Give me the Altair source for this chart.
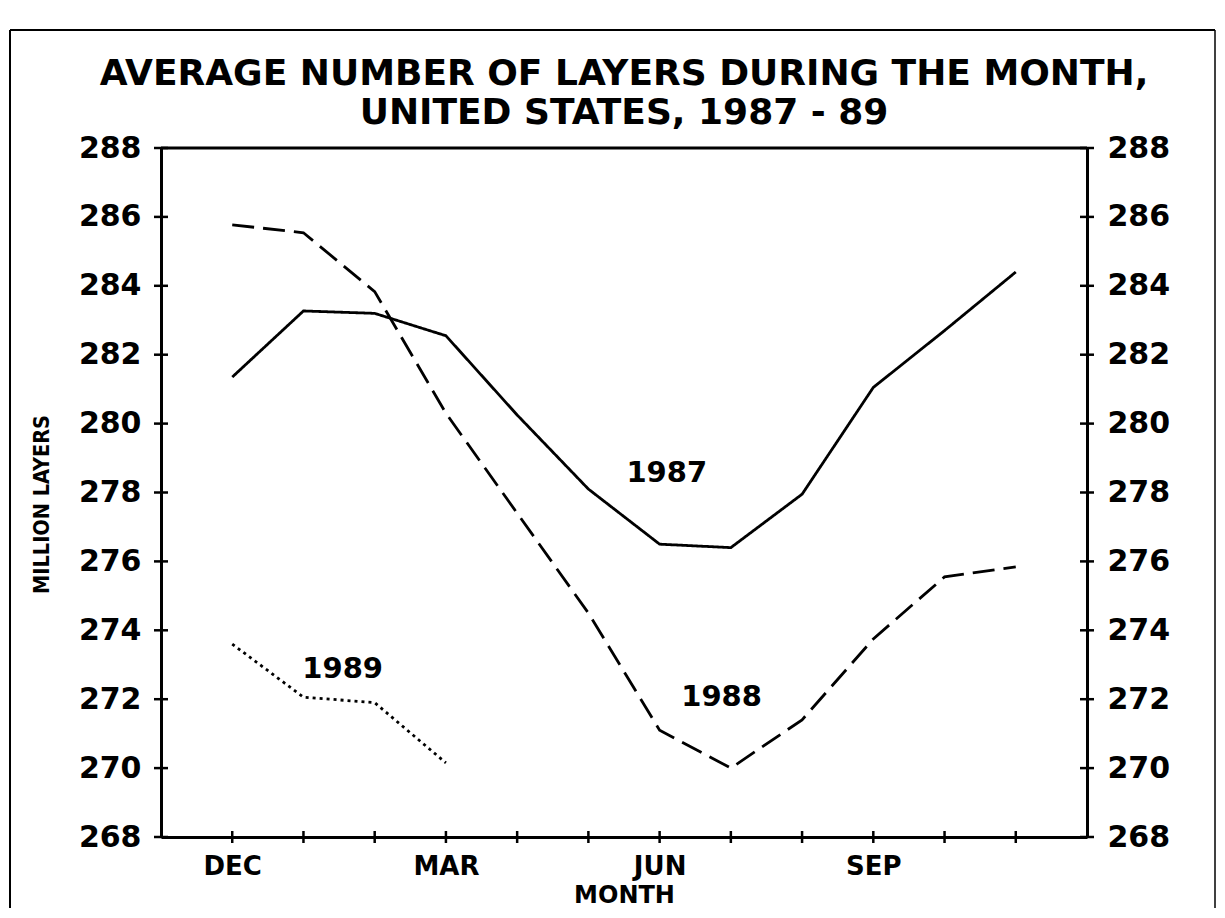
import altair as alt
import pandas as pd

months = ["DEC", "JAN", "FEB", "MAR", "APR", "MAY", "JUN", "JUL", "AUG", "SEP", "OCT", "NOV"]
v1987 = [281.35, 283.27, 283.2, 282.55, 280.25, 278.1, 276.5, 276.4, 277.95, 281.05, 282.7, 284.4]
v1988 = [285.77, 285.54, 283.83, 280.3, 277.4, 274.5, 271.1, 270.0, 271.4, 273.75, 275.55, 275.84]
v1989 = [273.6, 272.06, 271.9, 270.15]
years = ["1987", "1988", "1989"]
y_ticks = [268, 270, 272, 274, 276, 278, 280, 282, 284, 286, 288]
x_label_idx = [0, 3, 6, 9]
label_text = ["1987", "1988", "1989"]
label_idx = [6.1, 6.87, 1.55]
label_val = [278.57, 272.06, 272.88]

W, H = 926, 689

rows = []
for yr, vals in zip(years, [v1987, v1988, v1989]):
    for i, v in enumerate(vals):
        rows.append({"year": yr, "idx": i, "month": months[i], "value": v})
df = pd.DataFrame(rows)
ytick_df = pd.DataFrame({"value": y_ticks})
xtick_df = pd.DataFrame({"idx": list(range(len(months)))})
lab_df = pd.DataFrame({"label": label_text, "idx": label_idx, "value": label_val})

month_arr = "[" + ",".join("'" + m + "'" for m in months) + "]"

xscale = alt.Scale(domain=[-1, 12], nice=False, zero=False)
yscale = alt.Scale(domain=[268, 288], nice=False, zero=False)

xaxis = alt.Axis(
    values=x_label_idx, labelExpr=month_arr + "[datum.value]", ticks=False, grid=False,
    domainColor="black", domainWidth=3, labelFont="DejaVu Sans", labelFontWeight="bold",
    labelFontSize=26, labelColor="black", labelPadding=16,
    title="MONTH", titleFont="DejaVu Sans", titleFontWeight="bold", titleFontSize=24,
    titleColor="black", titleX=W / 2, titleY=65, titleBaseline="alphabetic", titleAlign="center",
)
x_enc = alt.X("idx:Q", scale=xscale, axis=xaxis)

yaxis_left = alt.Axis(
    values=y_ticks, ticks=False, grid=False, domainColor="black", domainWidth=3,
    labelFont="DejaVu Sans", labelFontWeight="bold", labelFontSize=30, labelColor="black",
    labelPadding=20, title="MILLION LAYERS",
    titleFont="DejaVu Sans Condensed, Liberation Sans, sans-serif",
    titleFontWeight="bold", titleFontSize=21.5, titleColor="black", titleAngle=270,
    titleX=-119, titleY=356, titleAlign="center", titleBaseline="middle",
)
yaxis_right = alt.Axis(
    orient="right", values=y_ticks, ticks=False, grid=False, domainColor="black", domainWidth=3,
    labelFont="DejaVu Sans", labelFontWeight="bold", labelFontSize=30, labelColor="black",
    labelPadding=20, title=None,
)

lines = alt.Chart(df).mark_line(color="black", strokeWidth=2.8).encode(
    x=x_enc,
    y=alt.Y("value:Q", scale=yscale, axis=yaxis_left),
    strokeDash=alt.StrokeDash(
        "year:N", scale=alt.Scale(domain=years, range=[[1, 0], [22, 9], [3, 4]]), legend=None
    ),
    detail="year:N",
)

right_axis = alt.Chart(df).mark_line(opacity=0).encode(
    x=x_enc,
    y=alt.Y("value:Q", scale=yscale, axis=yaxis_right),
    detail="year:N",
)

ytick_left = alt.Chart(ytick_df).mark_rule(color="black", strokeWidth=2.5).encode(
    y=alt.Y("value:Q", scale=yscale, axis=None), x=alt.value(-7), x2=alt.value(7)
)
ytick_right = alt.Chart(ytick_df).mark_rule(color="black", strokeWidth=2.5).encode(
    y=alt.Y("value:Q", scale=yscale, axis=None), x=alt.value(W - 7), x2=alt.value(W + 7)
)
xtick = alt.Chart(xtick_df).mark_rule(color="black", strokeWidth=2.5).encode(
    x=x_enc, y=alt.value(H - 6), y2=alt.value(H + 6)
)

labels = alt.Chart(lab_df).mark_text(
    font="DejaVu Sans", fontWeight="bold", fontSize=29, color="black", align="center",
    baseline="middle",
).encode(
    x=x_enc, y=alt.Y("value:Q", scale=yscale, axis=None), text="label:N"
)

frame_df = pd.DataFrame({"k": ["l", "t", "r", "p"]})
frame_left = alt.Chart(frame_df).transform_filter("datum.k == 'l'").mark_rule(
    color="black", strokeWidth=2
).encode(x=alt.value(-151), x2=alt.value(-151), y=alt.value(-118), y2=alt.value(H + 90))
frame_top = alt.Chart(frame_df).transform_filter("datum.k == 't'").mark_rule(
    color="black", strokeWidth=2
).encode(x=alt.value(-151), x2=alt.value(W + 128), y=alt.value(-118), y2=alt.value(-118))
frame_right = alt.Chart(frame_df).transform_filter("datum.k == 'r'").mark_rule(
    color="black", strokeWidth=1.5
).encode(x=alt.value(W + 128), x2=alt.value(W + 128), y=alt.value(-118), y2=alt.value(H + 90))
plot_top = alt.Chart(frame_df).transform_filter("datum.k == 'p'").mark_rule(
    color="black", strokeWidth=3
).encode(x=alt.value(0), x2=alt.value(W), y=alt.value(0), y2=alt.value(0))

chart = alt.layer(
    lines, right_axis, ytick_left, ytick_right, xtick, labels,
    frame_left, frame_top, frame_right, plot_top,
).resolve_scale(y="independent").properties(
    width=W,
    height=H,
    autosize=alt.AutoSizeParams(type="none"),
    padding={"left": 153, "top": 140, "right": 130, "bottom": 71},
    title=alt.TitleParams(
        text=["AVERAGE NUMBER OF LAYERS DURING THE MONTH,", "UNITED STATES, 1987 - 89"],
        font="DejaVu Sans", fontSize=36, fontWeight="bold", color="black",
        lineHeight=39, anchor="middle", offset=8, dy=111,
    ),
).configure_view(stroke="black", strokeWidth=3).configure(background="white")

chart.save("out.html", embed_options={"renderer": "svg", "actions": False})
